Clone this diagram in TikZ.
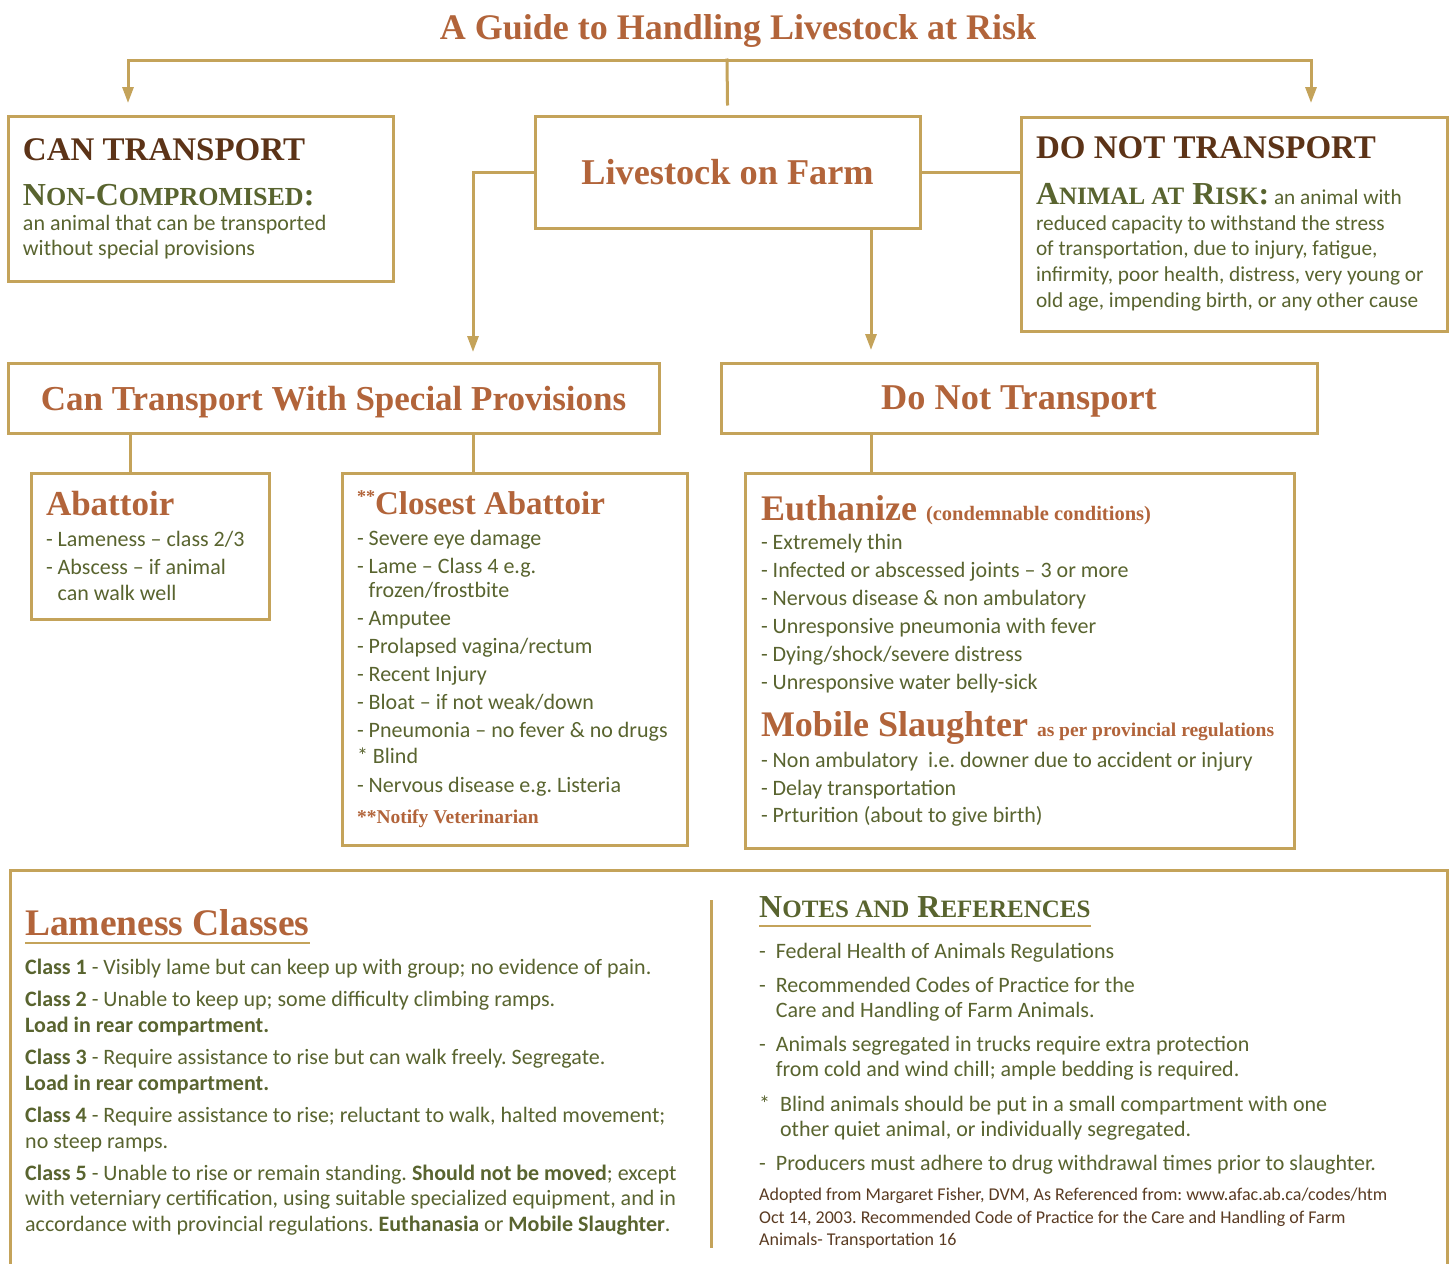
\documentclass[tikz,border=0pt]{standalone}
\usepackage{fontspec}
\setmainfont{Carlito}
\newfontfamily\serifhd{Liberation Serif}
\usepackage{xcolor}
\usetikzlibrary{arrows.meta,positioning,calc}

\definecolor{gold}{HTML}{C4A35A}
\definecolor{orng}{HTML}{B2643A}
\definecolor{dbrn}{HTML}{5C3317}
\definecolor{olv}{HTML}{59642F}
\definecolor{rbrn}{HTML}{5A3B22}

\newcommand\fsz[2]{\fontsize{#1}{#2}\selectfont}
% size, distance from previous baseline, text
\newcommand\pl[3]{{\fsz{#1}{#2}\spaceskip=0pt\xspaceskip=0pt #3\par}}
\newcommand\hd{\serifhd\bfseries}
\newcommand\cont{\hphantom{-\ }}
\frenchspacing

\begin{document}
\begin{tikzpicture}[x=1pt, y=-1pt,
    framebox/.style={
        rectangle, draw=gold, line width=3pt,
        anchor=north west, outer sep=0pt,
        inner xsep=15pt, inner ysep=0pt,
        align=left, text=olv
    },
    headbox/.style={
        rectangle, draw=gold, line width=3pt,
        anchor=north west, outer sep=0pt,
        inner sep=0pt, text depth=0pt, text=orng
    },
    arr/.style={-{Triangle[length=16pt,width=11pt]}, draw=gold, line width=3pt, line cap=rect},
    conn/.style={draw=gold, line width=3pt, line cap=rect},
    uline/.style={draw=gold, line width=1.2pt},
]
\useasboundingbox (0,0) rectangle (1452,1264);
\fill[white] (0,0) rectangle (1452,1264);

\node[anchor=base, inner sep=0pt, text=orng, font=\hd\fsz{36}{36}] (title) at (738,39)
    {A Guide to Handling Livestock at Risk};

% top row
\node[framebox, minimum width=385, minimum height=165, text width=355] (cant) at (8,116) {%
    \pl{33}{33}{\color{dbrn}\hd CAN TRANSPORT}
    \pl{32}{45}{\hd N{\fsz{26}{26}ON}-C{\fsz{26}{26}OMPROMISED}:}
    \pl{22}{25}{an animal that can be transported\\without special provisions}%
};

\node[headbox, minimum width=385, minimum height=112, font=\hd\fsz{36.3}{36.3}] (farm) at (535,116)
    {Livestock on Farm};

\node[framebox, minimum width=426, minimum height=214, text width=396] (dont) at (1021,117) {%
    \pl{33}{33}{\color{dbrn}\hd DO NOT TRANSPORT}
    \vspace{20pt}
    \pl{21.3}{25.7}{{\hd\fsz{32}{32}A{\fsz{25}{25}NIMAL AT} R{\fsz{25}{25}ISK}:} an animal with\\
        reduced capacity to withstand the stress\\
        of transportation, due to injury, fatigue,\\
        infirmity, poor health, distress, very young or\\
        old age, impending birth, or any other cause}%
};

% middle row
\node[headbox, minimum width=651, minimum height=70, font=\hd\fsz{35}{35}] (tsp) at (8,363)
    {Can Transport With Special Provisions};
\node[headbox, minimum width=596, minimum height=70, font=\hd\fsz{36.3}{36.3}] (notr) at (721,363)
    {Do Not Transport};

% lists
\node[framebox, minimum width=238, minimum height=146, text width=208] (abat) at (31,473) {%
    \pl{35}{35}{\color{orng}\hd Abattoir}
    \pl{22}{31}{- Lameness -- class 2/3}
    \vspace{2pt}
    \pl{22}{26}{- Abscess -- if animal\\\cont can walk well}%
};

\node[framebox, minimum width=345, minimum height=372, text width=315] (clos) at (342,473) {%
    \pl{33}{33}{\color{orng}\hd{\fsz{18}{18}\raisebox{12pt}{**}}Closest Abattoir}
    \pl{22}{31}{- Severe eye damage}
    \vspace{4pt}
    \pl{22}{24}{- Lame -- Class 4 e.g.\\\cont frozen/frostbite}
    \pl{22}{28}{- Amputee}
    \pl{22}{28}{- Prolapsed vagina/rectum}
    \pl{22}{28}{- Recent Injury}
    \pl{22}{28}{- Bloat -- if not weak/down}
    \pl{22}{28}{- Pneumonia -- no fever \& no drugs}
    \pl{22}{26}{* Blind}
    \pl{22}{29}{- Nervous disease e.g. Listeria}
    \pl{19.5}{31}{\color{orng}\hd **Notify Veterinarian}%
};

\node[framebox, inner xsep=16pt, minimum width=549, minimum height=375, text width=517] (euth) at (745,473) {%
    \pl{36}{36}{\color{orng}\hd Euthanize {\fsz{20.5}{20.5}(condemnable conditions)}}
    \pl{22}{29}{- Extremely thin}
    \pl{22}{28}{- Infected or abscessed joints -- 3 or more}
    \pl{22}{28}{- Nervous disease \& non ambulatory}
    \pl{22}{28}{- Unresponsive pneumonia with fever}
    \pl{22}{28}{- Dying/shock/severe distress}
    \pl{22}{28}{- Unresponsive water belly-sick}
    \pl{36}{47}{\color{orng}\hd Mobile Slaughter {\fsz{19.5}{19.5}as per provincial regulations}}
    \pl{22}{31}{- Non ambulatory\ \ i.e. downer due to accident or injury}
    \pl{22}{28}{- Delay transportation}
    \pl{22}{27}{- Prturition (about to give birth)}%
};

% bottom panel
\draw[conn, line cap=butt] (10,1264) |- (1447,870) -- (1447,1264);
\draw[conn, line cap=butt] (711,900) -- (711,1248);

\node[anchor=base west, inner sep=0pt, text=orng, font=\hd\fsz{37.5}{37.5}] (lamehd) at (25,935) {Lameness Classes};
\draw[uline] ([yshift=-8pt]lamehd.base west) -- ([yshift=-8pt]lamehd.base east);

\node[anchor=north west, inner sep=0pt, text width=690, align=left, text=olv] (lamelist) at (25,959) {%
    \pl{22}{26}{\textbf{Class 1} - Visibly lame but can keep up with group; no evidence of pain.}
    \vspace{6pt}
    \pl{22}{26}{\textbf{Class 2} - Unable to keep up; some difficulty climbing ramps.\\\textbf{Load in rear compartment.}}
    \vspace{6pt}
    \pl{22}{26}{\textbf{Class 3} - Require assistance to rise but can walk freely. Segregate.\\\textbf{Load in rear compartment.}}
    \vspace{6pt}
    \pl{22}{26}{\textbf{Class 4} - Require assistance to rise; reluctant to walk, halted movement;\\no steep ramps.}
    \vspace{6pt}
    \pl{22}{25.5}{\textbf{Class 5} - Unable to rise or remain standing. \textbf{Should not be moved}; except\\
        with veterniary certification, using suitable specialized equipment, and in\\
        accordance with provincial regulations. \textbf{Euthanasia} or \textbf{Mobile Slaughter}.}%
};

\node[anchor=base west, inner sep=0pt, text=olv, font=\hd\fsz{32}{32}] (notehd) at (759,917)
    {N{\fsz{25}{25}OTES AND} R{\fsz{25}{25}EFERENCES}};
\draw[uline] ([yshift=-9pt]notehd.base west) -- ([yshift=-9pt]notehd.base east);

\node[anchor=north west, inner sep=0pt, text width=680, align=left, text=olv] (notes) at (759,943) {%
    \pl{22}{25}{-\ \ Federal Health of Animals Regulations}
    \vspace{9pt}
    \pl{22}{25}{-\ \ Recommended Codes of Practice for the\\\hphantom{-\ \ }Care and Handling of Farm Animals.}
    \vspace{9pt}
    \pl{22}{25}{-\ \ Animals segregated in trucks require extra protection\\\hphantom{-\ \ }from cold and wind chill; ample bedding is required.}
    \vspace{10pt}
    \pl{22}{25}{*\ \ Blind animals should be put in a small compartment with one\\\hphantom{*\ \ }other quiet animal, or individually segregated.}
    \vspace{9pt}
    \pl{22}{25}{-\ \ Producers must adhere to drug withdrawal times prior to slaughter.}
    \vspace{8pt}
    \pl{18}{22.5}{\color{rbrn}Adopted from Margaret Fisher, DVM, As Referenced from: www.afac.ab.ca/codes/htm\\
        Oct 14, 2003. Recommended Code of Practice for the Care and Handling of Farm\\
        Animals- Transportation 16}%
};

% connectors
\coordinate (hub) at (727,60);
\draw[arr] (hub) -| ([xshift=120pt,yshift=13pt]cant.north west);
\draw[arr] (hub) -| ([xshift=290pt,yshift=14pt]dont.north west);
\draw[conn] (hub) -- ([yshift=12pt]farm.north);

\draw[arr] (farm.west) -| ([xshift=465pt,yshift=11pt]tsp.north west);
\coordinate (notrin) at ([xshift=150pt,yshift=13pt]notr.north west);
\draw[arr] (farm.south -| notrin) -- (notrin);
\draw[conn] (farm.east) -- (farm.east -| dont.west);

\coordinate (abatin) at ([xshift=99pt]abat.north west);
\coordinate (closin) at ([xshift=131pt]clos.north west);
\coordinate (euthin) at ([xshift=126pt]euth.north west);
\draw[conn] (tsp.south -| abatin) -- (abatin);
\draw[conn] (tsp.south -| closin) -- (closin);
\draw[conn] (notr.south -| euthin) -- (euthin);

\end{tikzpicture}
\end{document}
